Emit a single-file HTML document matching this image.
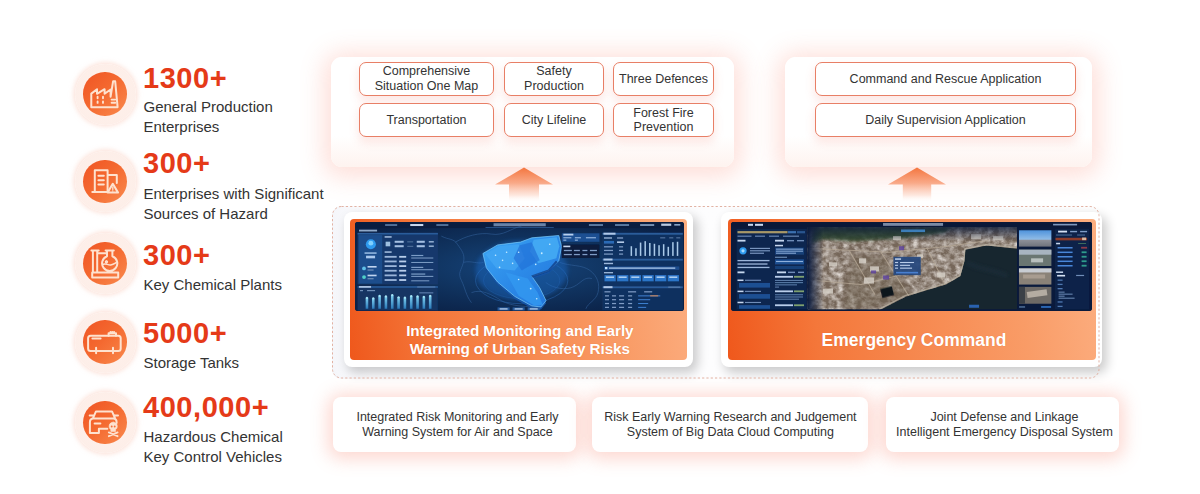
<!DOCTYPE html>
<html lang="en">
<head>
<meta charset="utf-8">
<title>Urban Safety Overview</title>
<style>
*{box-sizing:border-box;margin:0;padding:0}
html,body{width:1200px;height:494px;background:#fff;overflow:hidden}
body{position:relative;font-family:"Liberation Sans",sans-serif;color:#333}
.abs{position:absolute}
/* left stats */
.ring{position:absolute;left:74.5px;width:61px;height:61px;border-radius:50%;
  background:radial-gradient(circle,#fef1ec 0,#fdeee8 78%,#fce5dc 88%,#fbd9ce 96%,#fbd5c9 100%);
  box-shadow:0 0 5px 1.5px rgba(250,205,190,.6)}
.ring i{position:absolute;left:8.75px;top:8.75px;width:43.5px;height:43.5px;border-radius:50%;
  background:linear-gradient(135deg,#ef5424 0%,#f4682f 45%,#f98a4e 100%)}
.ring svg{position:absolute;left:8.5px;top:8.5px;width:44px;height:44px;fill:none;stroke:#fee2cf;stroke-width:2;stroke-linejoin:round;stroke-linecap:round}
.num{position:absolute;left:143px;font-weight:bold;font-size:29px;line-height:34px;color:#e53a18;white-space:nowrap;letter-spacing:.55px}
.lbl{position:absolute;left:143.5px;font-size:15px;line-height:19.6px;color:#333;white-space:nowrap}
/* panels */
.panel{position:absolute;background:linear-gradient(180deg,#fff 0,#fff 72%,#fef3ef 100%);border-radius:11px;box-shadow:0 3px 24px 7px rgba(249,120,95,.24)}
.pill{position:absolute;border:1px solid #e87f66;border-radius:7px;background:#fff;box-shadow:0 5px 10px 1px rgba(244,120,100,.16);padding-top:.5px;font-size:12.5px;line-height:14.5px;color:#333;display:flex;align-items:center;justify-content:center;text-align:center}
.arrow{position:absolute}
.dash{position:absolute;left:331.8px;top:206.1px;width:767.5px;height:172.5px;border-radius:9px;background:linear-gradient(90deg,#f5f6fa 0,#fcfcfe 5%,#fefefe 100%)}
.dash svg{position:absolute;left:0;top:0;width:100%;height:100%;overflow:visible}
.card{position:absolute;top:211.5px;height:155px;background:#fff;border-radius:8px;box-shadow:4px 5px 11px 1px rgba(0,0,0,.2)}
.card .or{position:absolute;left:6.5px;top:7.3px;right:6px;bottom:6.3px;border-radius:4px;background:linear-gradient(82deg,#ef581c 0%,#f4773a 24%,#f99c67 78%,#fcae80 100%)}
.card .shot{position:absolute;border-radius:3px;overflow:hidden;background:#0b1f45}
.card .cap{position:absolute;left:0;right:0;color:#fff;text-shadow:0 0 1px rgba(210,80,20,.45);font-weight:bold;text-align:center;white-space:nowrap}
.bbox{position:absolute;top:396.5px;height:55px;background:#fff;border-radius:8px;box-shadow:0 2px 17px 5px rgba(249,115,90,.28);padding-top:2.4px;font-size:12.5px;line-height:15.5px;color:#333;display:flex;align-items:center;justify-content:center;text-align:center}
</style>
</head>
<body>

<!-- LEFT STATS -->
<div class="ring" style="top:63.7px"><i></i>
<svg viewBox="0 0 44 44"><path d="M8.3 35.2V21.6L14 17.2v4.6l7.6-4.6v4.6l6-4.3v7.2l2.5-15.4h2.1l2.4 25.9z"/><path d="M14.6 24.8v1.5M14.6 29.4v1.5M20 24.8v1.5M20 29.4v1.5M28.6 27.6h3.6M28.6 30.8h3.6" stroke-width="1.9"/></svg></div>
<div class="num" style="top:60.5px">1300+</div>
<div class="lbl" style="top:97px">General Production<br>Enterprises</div>

<div class="ring" style="top:150.9px"><i></i>
<svg viewBox="0 0 44 44"><path d="M11.8 32.7V11.3h12.8v21.4M9.3 32.9h15.5M24.6 16h9.2v8M15.4 16.8h5.4M15.4 21.2h5.4M15.4 25.6h5.4"/><path d="M29.8 24.8l5.2 8.7H24.6z" stroke-width="2.1"/><path d="M29.8 28v2.6M29.8 31.9v.1" stroke-width="1.3"/></svg></div>
<div class="num" style="top:146.4px">300+</div>
<div class="lbl" style="top:184px">Enterprises with Significant<br>Sources of Hazard</div>

<div class="ring" style="top:233.1px"><i></i>
<svg viewBox="0 0 44 44"><path d="M9.2 30.4h26v5h-26zM9.9 8.6v21.8M14.2 8.6v21.8M8.4 8.6h7.3M14.2 11.3h9.8M24 8.6v5.7a7.6 7.6 0 1 0 5.4 0V8.6M22.6 8.6h8.2"/><path d="M19.6 22.6c2.5-2.2 5.2 .8 8.2 .3s4.3-1.8 6-2.6M23.4 18.9a.9 .9 0 1 0 .1 0" stroke-width="1.5"/></svg></div>
<div class="num" style="top:238.2px">300+</div>
<div class="lbl" style="top:275px">Key Chemical Plants</div>

<div class="ring" style="top:311.5px"><i></i>
<svg viewBox="0 0 44 44"><rect x="5.1" y="15.8" width="32.6" height="15.3" rx="2.5"/><path d="M25.6 15.8v-2.6h7.4v2.6M27.5 13.2v-1.1M29.3 13.2v-1.1M31.1 13.2v-1.1M13.1 27.8v5.5M30 27.8v5.5M9.4 18.6h8.2"/></svg></div>
<div class="num" style="top:316.3px">5000+</div>
<div class="lbl" style="top:352.8px">Storage Tanks</div>

<div class="ring" style="top:392.1px"><i></i>
<svg viewBox="0 0 44 44"><path d="M6.7 14.6h3.4M35 14.6h-3.4M10 17.2l3-6.8h16l3 6.8M6.9 32V21.2c0-2.2 1.5-3.6 3.5-3.6h19.8c2 0 3.4 1.4 3.4 3.6v.8M6.9 32h9v-4.2h8.4M11.6 22.4h5.8"/><path d="M30.2 21.2a4.1 4.1 0 0 1 4.1 4.1c0 1.5-.7 2.6-1.7 3.2v1.9h-4.8v-1.9c-1-.6-1.7-1.7-1.7-3.2a4.1 4.1 0 0 1 4.1-4.1z" fill="#fee2cf" stroke-width=".6"/><circle cx="28.7" cy="25.5" r=".95" fill="#f3703a" stroke="none"/><circle cx="31.7" cy="25.5" r=".95" fill="#f3703a" stroke="none"/><path d="M25.8 31.4l8.8 3.8M34.6 31.4l-8.8 3.8" stroke-width="1.8"/></svg></div>
<div class="num" style="top:390.3px">400,000+</div>
<div class="lbl" style="top:427px">Hazardous Chemical<br>Key Control Vehicles</div>

<!-- TOP PANELS -->
<div class="panel" style="left:331px;top:56.5px;width:403px;height:110.5px"></div>
<div class="pill" style="left:359px;top:61.5px;width:135px;height:34px">Comprehensive<br>Situation One Map</div>
<div class="pill" style="left:504px;top:61.5px;width:100px;height:34px">Safety<br>Production</div>
<div class="pill" style="left:613px;top:61.5px;width:101px;height:34px">Three Defences</div>
<div class="pill" style="left:359px;top:103px;width:135px;height:34px">Transportation</div>
<div class="pill" style="left:504px;top:103px;width:100px;height:34px">City Lifeline</div>
<div class="pill" style="left:613px;top:103px;width:101px;height:34px">Forest Fire<br>Prevention</div>

<div class="panel" style="left:785px;top:56.5px;width:307px;height:110.5px"></div>
<div class="pill" style="left:815px;top:61.5px;width:261px;height:34px">Command and Rescue Application</div>
<div class="pill" style="left:815px;top:103px;width:261px;height:34px">Daily Supervision Application</div>

<!-- ARROWS -->
<svg class="arrow" style="left:494px;top:166px" width="60" height="40" viewBox="0 0 60 40">
<defs><linearGradient id="ag" x1="0" y1="0" x2="0" y2="1"><stop offset="0" stop-color="#f4763f"/><stop offset=".45" stop-color="#f9a988"/><stop offset=".8" stop-color="#fdddd0" stop-opacity=".7"/><stop offset="1" stop-color="#fff" stop-opacity="0"/></linearGradient></defs>
<path d="M30 1.5L59 18.5H45V36H15V18.5H1z" fill="url(#ag)"/></svg>
<svg class="arrow" style="left:887px;top:166px" width="60" height="40" viewBox="0 0 60 40">
<path d="M30 1.5L59 18.5H44.2V36H15.8V18.5H1z" fill="url(#ag)"/></svg>

<!-- MIDDLE -->
<div class="dash"></div>

<div class="card" style="left:343.5px;width:349.3px">
  <div class="or"></div>
  <div class="shot" id="shot1" style="left:11.7px;top:10.5px;width:328.8px;height:89.3px">
<svg width="100%" height="100%" viewBox="0 0 327.5 88.5" preserveAspectRatio="none">
<defs>
<radialGradient id="s1bg" cx="50%" cy="50%" r="60%"><stop offset="0" stop-color="#16457c"/><stop offset=".5" stop-color="#10335f"/><stop offset="1" stop-color="#0b2146"/></radialGradient>
<linearGradient id="blob" x1="0" y1="0" x2="1" y2="1"><stop offset="0" stop-color="#3ba6f4"/><stop offset=".5" stop-color="#2c8ae8"/><stop offset="1" stop-color="#2172d8"/></linearGradient>
<linearGradient id="bar1" x1="0" y1="0" x2="0" y2="1"><stop offset="0" stop-color="#7fd0f0"/><stop offset="1" stop-color="#2a78b8"/></linearGradient>
<filter id="bl1" x="-5%" y="-5%" width="110%" height="110%"><feGaussianBlur stdDeviation=".45"/></filter>
<filter id="bl2" x="-20%" y="-20%" width="140%" height="140%"><feGaussianBlur stdDeviation="2.2"/></filter>
</defs>
<rect width="327.5" height="88.5" fill="url(#s1bg)"/>
<rect width="327.5" height="6" fill="#0a1d40"/>
<g filter="url(#bl1)">
<!-- top nav -->
<rect x="30" y="2.2" width="12" height="1.6" fill="#5f7fa8"/><rect x="55" y="2" width="13" height="2" fill="#c9d8ee"/><rect x="81" y="2.2" width="12" height="1.6" fill="#5f7fa8"/>
<rect x="138" y="1.2" width="52" height="3" fill="#a9c6ec" opacity=".6"/><rect x="130" y="5" width="68" height=".8" fill="#2d5a94"/>
<rect x="233" y="2.2" width="14" height="1.6" fill="#6c8bb3"/><rect x="259" y="2.2" width="14" height="1.6" fill="#6c8bb3"/><rect x="284" y="2.2" width="14" height="1.6" fill="#8aa5c8"/><rect x="305" y="1.6" width="10" height="2.2" fill="#b8c9e2"/><rect x="318" y="2" width="6" height="1.6" fill="#8aa5c8"/>
<rect x="4" y="7.6" width="18" height="1.8" fill="#8fa8c8"/>
<!-- left top panel -->
<rect x="2.6" y="10.8" width="80" height="51" fill="#14396c"/>
<rect x="2.6" y="10.8" width="80" height="1.6" fill="#2a5c9a"/>
<rect x="3.6" y="13" width="23.5" height="48" fill="#1e4e8c"/>
<circle cx="15.8" cy="22" r="5" fill="#2f9bef"/><circle cx="15.8" cy="21" r="2.4" fill="#7fd0ff"/>
<rect x="9.5" y="30" width="12" height="1.6" fill="#8fb4de"/><rect x="11" y="33.4" width="9" height="2.6" fill="#a9c8ee"/>
<circle cx="9" cy="46" r="1.9" fill="#5fc0e8"/><rect x="12.5" y="43.6" width="9" height="1.6" fill="#c0d4f0"/><rect x="12.5" y="47" width="6" height="1.2" fill="#6d8fba"/>
<circle cx="9" cy="54.6" r="1.9" fill="#4fd0c8"/><rect x="12.5" y="52.2" width="9" height="1.6" fill="#c0d4f0"/><rect x="12.5" y="55.6" width="6" height="1.2" fill="#6d8fba"/>
<rect x="29.5" y="14" width="7" height="1.6" fill="#9db6d8"/>
<rect x="30.5" y="19.5" width="4.6" height="4.6" fill="#9fc0e0"/>
<rect x="39.5" y="18.6" width="9" height="2" fill="#a5bfe2"/><rect x="39.5" y="23" width="9" height="2" fill="#a5bfe2"/><rect x="52" y="19.2" width="6" height="1" fill="#54749f"/><rect x="52" y="23.6" width="6" height="1" fill="#54749f"/>
<rect x="61.5" y="18.6" width="8" height="2" fill="#a5bfe2"/><rect x="61.5" y="23" width="8" height="2" fill="#a5bfe2"/><rect x="73.5" y="18.8" width="5" height="1.6" fill="#8fa9cd"/><rect x="73.5" y="23.2" width="5" height="1.6" fill="#8fa9cd"/>
<rect x="29.5" y="29" width="7" height="1.6" fill="#9db6d8"/>
<g fill="#9bb5da"><rect x="29.5" y="33.6" width="12" height="1.8"/><rect x="29.5" y="38.2" width="12" height="1.8"/><rect x="29.5" y="42.8" width="12" height="1.8"/><rect x="29.5" y="47.4" width="12" height="1.8"/><rect x="29.5" y="52" width="12" height="1.8"/><rect x="29.5" y="56.6" width="12" height="1.8"/></g>
<g fill="#b9cdea"><rect x="44" y="33.6" width="7" height="1.8"/><rect x="44" y="38.2" width="7" height="1.8"/><rect x="44" y="42.8" width="7" height="1.8"/><rect x="44" y="47.4" width="7" height="1.8"/><rect x="44" y="52" width="7" height="1.8"/><rect x="44" y="56.6" width="7" height="1.8"/></g>
<g fill="#7d9cc6"><rect x="56" y="32.6" width="12" height="1.2"/><rect x="56" y="35.2" width="22" height="1"/><rect x="56" y="39.6" width="22" height="1"/><rect x="56" y="44.4" width="12" height="1.2"/><rect x="56" y="46.8" width="22" height="1"/><rect x="56" y="51" width="14" height="1.2"/><rect x="56" y="53.4" width="22" height="1"/><rect x="56" y="57.8" width="18" height="1"/></g>
<!-- left bottom panel -->
<rect x="2.6" y="63.6" width="80" height="24" fill="#123464"/>
<rect x="2.6" y="63.6" width="80" height="1.6" fill="#2a5c9a"/><rect x="4" y="63.4" width="12" height="1.8" fill="#a8c0e0"/><rect x="62" y="63.8" width="18" height="1.2" fill="#5a7dab"/>
<rect x="5" y="67.4" width="3" height="1.2" fill="#6f8fb8"/><rect x="12" y="67.4" width="8" height="1.2" fill="#6f8fb8"/><rect x="64" y="69.6" width="14" height="1.2" fill="#587aa8"/>
<g fill="url(#bar1)"><rect x="10.6" y="75" width="2.6" height="11"/><rect x="16.9" y="75.6" width="2.6" height="10.4"/><rect x="23.2" y="73" width="2.6" height="13"/><rect x="29.5" y="73.6" width="2.6" height="12.4"/><rect x="35.8" y="72.2" width="2.6" height="13.8"/><rect x="42.1" y="74.4" width="2.6" height="11.6"/><rect x="48.4" y="74.8" width="2.6" height="11.2"/><rect x="54.7" y="73.2" width="2.6" height="12.8"/><rect x="61" y="73.6" width="2.6" height="12.4"/><rect x="67.3" y="74" width="2.6" height="12"/><rect x="73.6" y="73" width="2.6" height="13"/></g>
<g fill="#a8e4f4"><circle cx="11.9" cy="75.2" r="1.1"/><circle cx="18.2" cy="75.8" r="1.1"/><circle cx="24.5" cy="73.2" r="1.1"/><circle cx="30.8" cy="73.8" r="1.1"/><circle cx="37.1" cy="72.4" r="1.1"/><circle cx="43.4" cy="74.6" r="1.1"/><circle cx="49.7" cy="75" r="1.1"/><circle cx="56" cy="73.4" r="1.1"/><circle cx="62.3" cy="73.8" r="1.1"/><circle cx="68.6" cy="74.2" r="1.1"/><circle cx="74.9" cy="73.2" r="1.1"/></g>
</g>
<!-- map background lines -->
<g fill="none" stroke="#3a6aa6" stroke-width=".6" opacity=".8">
<path d="M86 14c8 4 12 2 16 8s8 10 6 18-6 10-2 18 4 14 10 22"/><path d="M108 40c8-2 14 2 20 0M116 70c10-4 20 2 30 8s26 6 40 6"/><path d="M204 40c10 4 22 2 30 8s10 14 8 22-10 10-12 16"/><path d="M100 20c10-6 24-10 36-8s20-6 30-8"/><path d="M190 60c8 6 20 8 28 4s10-10 18-8"/>
</g>
<g fill="none" stroke="#2d6bb5" stroke-width=".7" opacity=".7"><ellipse cx="166" cy="58" rx="46" ry="23"/><ellipse cx="166" cy="58" rx="38" ry="18" opacity=".6"/></g>
<!-- blob -->
<ellipse cx="166" cy="48" rx="46" ry="30" fill="#1f6fd0" opacity=".4" filter="url(#bl2)"/>
<path d="M127.4 33.7L142.1 25.2l22.7-2.8 11.3-4.2 26.9-2.3 2.8 10.8-2.8 14.1-9.9 9.9-17 5.7 7.9 11.3 6.3 12.8-5.1 6.2-9.1-1.1-17-9.4-17-14.1-11.3-14.2z" fill="#1553a4"/>
<path d="M127.4 31.2L142.1 22.7l22.7-2.8 11.3-4.2 26.9-2.3 2.8 10.8-2.8 14.1-9.9 9.9-17 5.7 7.9 11.3 6.3 12.8-5.1 6.2-9.1-1.1-17-9.4-17-14.1-11.3-14.2z" fill="url(#blob)" stroke="#7accfa" stroke-width=".7" stroke-linejoin="round"/>
<g filter="url(#bl1)">
<path d="M178 17.5l23-2.5 2.5 9-3 12-18 5-8-12z" fill="#46adf5" opacity=".85"/>
<path d="M130 32l13-8 20-2 6 14-10 12-18-2z" fill="#42a6f4" opacity=".8"/>
<path d="M150 50l22 6 10 14 5 12-8 1-16-10z" fill="#3398f0" opacity=".85"/>
<path d="M164 23l12-3 8 18-18 10-8-12z" fill="#2474da" opacity=".75"/>
<path d="M176 54l17-6 8-9" fill="none" stroke="#0f3f88" stroke-width="2.2" opacity=".8"/>
<g fill="#c8ecff"><circle cx="140" cy="33" r=".8"/><circle cx="147" cy="38" r=".8"/><circle cx="151" cy="30" r=".8"/><circle cx="157" cy="41" r=".8"/><circle cx="163" cy="30" r=".8"/><circle cx="186" cy="31" r=".9"/><circle cx="180" cy="42" r=".8"/><circle cx="163" cy="57" r=".8"/><circle cx="175" cy="66" r=".9"/><circle cx="181" cy="76" r=".8"/><circle cx="144" cy="45" r=".8"/><circle cx="194" cy="22" r=".8"/></g>
<!-- bottom buttons -->
<rect x="142" y="84.6" width="12" height="3" fill="#275a9c"/><rect x="157" y="84.6" width="12" height="3" fill="#275a9c"/><rect x="172" y="84.6" width="12" height="3" fill="#275a9c"/>
<rect x="144" y="85.5" width="8" height="1.3" fill="#b5cbe8"/><rect x="159" y="85.5" width="8" height="1.3" fill="#b5cbe8"/><rect x="174" y="85.5" width="8" height="1.3" fill="#b5cbe8"/>
<!-- centre-right info -->
<rect x="206" y="11.2" width="37.5" height="8.4" fill="#1c4f92"/><rect x="207.5" y="11.6" width="10" height="1.8" fill="#b8d0ee"/>
<rect x="207.5" y="15" width="8" height="1.2" fill="#8eb0da"/><rect x="219" y="15" width="6" height="1.2" fill="#8eb0da"/><rect x="230" y="15" width="10" height="1.2" fill="#8eb0da"/><rect x="207.5" y="17.4" width="3" height="1.2" fill="#8eb0da"/><rect x="219" y="17.4" width="3" height="1.2" fill="#8eb0da"/>
<rect x="206" y="22.3" width="37.5" height="13.4" fill="#0a1a3c"/><rect x="207.5" y="23.4" width="7" height="1.6" fill="#c5d6ee"/>
<g fill="#7f9cc6"><rect x="208" y="27.6" width="8" height="1.3"/><rect x="218" y="27.6" width="6" height="1.3"/><rect x="226.5" y="27.6" width="5" height="1.3"/><rect x="234" y="27.6" width="7" height="1.3"/><rect x="208" y="31.6" width="8" height="1.3"/><rect x="218" y="31.6" width="6" height="1.3"/><rect x="226.5" y="31.6" width="5" height="1.3"/><rect x="234" y="31.6" width="7" height="1.3"/></g>
<!-- right column -->
<rect x="246.5" y="10.4" width="80" height="77" fill="#123463" opacity=".85"/>
<rect x="246.5" y="10.8" width="80" height="1.8" fill="#2a5c9a"/><rect x="247.5" y="10.6" width="12" height="2" fill="#b0c8e8"/>
<rect x="248" y="15.2" width="8" height="1.3" fill="#9db8dc"/><rect x="261" y="15.2" width="6" height="1.3" fill="#7f9cc6"/><rect x="304" y="15.2" width="5" height="1" fill="#5b7ba8"/><rect x="313" y="15.2" width="4" height="1" fill="#5b7ba8"/><rect x="320" y="15.2" width="4" height="1" fill="#5b7ba8"/>
<rect x="248" y="18.8" width="10" height="2.6" fill="#2c6ab6"/><rect x="261" y="19.2" width="7" height="1.6" fill="#b5cbe8"/>
<g fill="#7f9cc6"><rect x="248" y="24" width="9" height="1.2"/><rect x="248" y="27.6" width="9" height="1.2"/><rect x="248" y="31.2" width="9" height="1.2"/><rect x="263" y="24" width="4" height="1.2"/><rect x="263" y="27.6" width="4" height="1.2"/><rect x="263" y="31.2" width="4" height="1.2"/></g>
<g fill="#a9c9e8"><rect x="274.5" y="24" width="1.5" height="9.6"/><rect x="279.1" y="26" width="1.5" height="7.6"/><rect x="283.7" y="20.4" width="1.5" height="13.2"/><rect x="288.3" y="19" width="1.5" height="14.6"/><rect x="292.9" y="20.8" width="1.5" height="12.8"/><rect x="297.5" y="21.6" width="1.5" height="12"/><rect x="302.1" y="23" width="1.5" height="10.6"/><rect x="306.7" y="22" width="1.5" height="11.6"/><rect x="311.3" y="24.6" width="1.5" height="9"/><rect x="315.9" y="20" width="1.5" height="13.6"/><rect x="320.5" y="19.6" width="1.5" height="14"/></g>
<rect x="246.5" y="36.4" width="80" height="1.8" fill="#2a5c9a"/><rect x="247.5" y="36.2" width="9" height="2" fill="#b0c8e8"/>
<rect x="248" y="40.4" width="9" height="1.4" fill="#9db8dc"/>
<rect x="248" y="44" width="75" height="3.4" fill="#1d4d8e"/><rect x="249" y="44.6" width="2.4" height="2.2" fill="#bfe0ff"/><rect x="253" y="45" width="66" height="1.4" fill="#9fbde2"/>
<rect x="248" y="49.6" width="9" height="1.3" fill="#9db8dc"/>
<g fill="#2c74c8"><rect x="248.5" y="52.6" width="11.2" height="6.2"/><rect x="261.1" y="52.6" width="11.2" height="6.2"/><rect x="273.7" y="52.6" width="11.2" height="6.2"/><rect x="286.3" y="52.6" width="11.2" height="6.2"/><rect x="298.9" y="52.6" width="11.2" height="6.2"/><rect x="311.5" y="52.6" width="11.2" height="6.2"/></g>
<g fill="#b8d6f4"><rect x="250" y="54" width="8" height="1.4"/><rect x="262.6" y="54" width="8" height="1.4"/><rect x="275.2" y="54" width="8" height="1.4"/><rect x="287.8" y="54" width="8" height="1.4"/><rect x="300.4" y="54" width="8" height="1.4"/><rect x="313" y="54" width="8" height="1.4"/></g>
<rect x="246.5" y="63.8" width="80" height="1.8" fill="#2a5c9a"/><rect x="247.5" y="63.6" width="9" height="2" fill="#b0c8e8"/><rect x="312" y="64" width="12" height="1.2" fill="#5a7dab"/>
<g fill="#7f9cc6"><rect x="248.5" y="68.6" width="6" height="1.2"/><rect x="272" y="68.6" width="8" height="1.2"/><rect x="288" y="68.6" width="8" height="1.2"/>
<rect x="249" y="72.6" width="4" height="1.2"/><rect x="256" y="72.6" width="4" height="1.2"/><rect x="263" y="72.6" width="5" height="1.2"/><rect x="272" y="72.6" width="4" height="1.2"/>
<rect x="249" y="76.4" width="4" height="1.2"/><rect x="256" y="76.4" width="4" height="1.2"/><rect x="263" y="76.4" width="5" height="1.2"/><rect x="272" y="76.4" width="4" height="1.2"/>
<rect x="249" y="80.2" width="4" height="1.2"/><rect x="256" y="80.2" width="4" height="1.2"/><rect x="263" y="80.2" width="5" height="1.2"/><rect x="272" y="80.2" width="4" height="1.2"/>
<rect x="249" y="84" width="4" height="1.2"/><rect x="256" y="84" width="4" height="1.2"/><rect x="263" y="84" width="5" height="1.2"/><rect x="272" y="84" width="4" height="1.2"/></g>
<g fill="#3d7fd0"><rect x="282" y="72.7" width="22" height="1"/><rect x="282" y="76.5" width="12" height="1"/><rect x="282" y="80.3" width="10" height="1"/><rect x="282" y="84.1" width="8" height="1"/></g>
<rect x="294" y="72.7" width="8" height="1" fill="#e08850"/>
</g>
</svg>
</div>
  <div class="cap" style="top:110.2px;padding-left:3.4px;font-size:15.3px;letter-spacing:-.1px;line-height:18px">Integrated Monitoring and Early<br>Warning of Urban Safety Risks</div>
</div>

<div class="card" style="left:721px;width:381px">
  <div class="or"></div>
  <div class="shot" id="shot2" style="left:9.6px;top:10.5px;width:361.6px;height:89.3px">
<svg width="100%" height="100%" viewBox="0 0 361.5 88.5" preserveAspectRatio="none">
<defs>
<filter id="sat" x="0" y="0" width="100%" height="100%"><feTurbulence type="fractalNoise" baseFrequency=".16 .2" numOctaves="3" seed="7" result="n"/><feColorMatrix type="matrix" values="0 0 0 0 0.74  0 0 0 0 0.69  0 0 0 0 0.65  1.3 1.1 0 0 -0.9"/><feGaussianBlur stdDeviation=".5"/></filter>
<filter id="sat2" x="0" y="0" width="100%" height="100%"><feTurbulence type="fractalNoise" baseFrequency=".3 .35" numOctaves="2" seed="3"/><feColorMatrix type="matrix" values="0 0 0 0 0.86  0 0 0 0 0.83  0 0 0 0 0.8  1.6 0 0 0 -0.95"/><feGaussianBlur stdDeviation=".4"/></filter>
<filter id="b2" x="-5%" y="-5%" width="110%" height="110%"><feGaussianBlur stdDeviation=".45"/></filter>
<filter id="b3" x="-10%" y="-10%" width="120%" height="120%"><feGaussianBlur stdDeviation="1.6"/></filter>
<clipPath id="mapc"><rect x="76.5" y="5" width="209.5" height="81.5"/></clipPath>
<clipPath id="landc"><path d="M76.5 5H286v21.4l-30.5-3-21.3 4-1 12.2-4 14.2-14.2 8.1-20.2 6.1-20.3 6-26.2 13.5H76.5z"/></clipPath>
<linearGradient id="tfade" x1="0" y1="0" x2="0" y2="1"><stop offset="0" stop-color="#0a1a3a" stop-opacity=".75"/><stop offset="1" stop-color="#0a1a3a" stop-opacity="0"/></linearGradient>
<linearGradient id="lfade" x1="0" y1="0" x2="1" y2="0"><stop offset="0" stop-color="#0b1c40"/><stop offset="1" stop-color="#0b1c40" stop-opacity="0"/></linearGradient>
<linearGradient id="sky" x1="0" y1="0" x2="0" y2="1"><stop offset="0" stop-color="#4f93dc"/><stop offset=".55" stop-color="#8fbbe6"/><stop offset=".6" stop-color="#8d8f98"/><stop offset="1" stop-color="#6f737c"/></linearGradient>
</defs>
<rect width="361.5" height="88.5" fill="#0a1a3c"/>
<!-- map -->
<g clip-path="url(#mapc)">
<rect x="76.5" y="5" width="210" height="82" fill="#17262f"/>
<g clip-path="url(#landc)">
<rect x="76.5" y="5" width="210" height="82" fill="#76675a"/>
<rect x="76.5" y="5" width="210" height="82" filter="url(#sat)"/>
<rect x="76.5" y="5" width="210" height="82" filter="url(#sat2)" opacity=".55"/>
<path d="M82 5h140l-10 6-40 5-50 3-30-2-12 4z" fill="#2e4a2c" opacity=".85" filter="url(#b3)"/>
<path d="M120 30l34 3 30 40-44 14-30-1z" fill="#6e5e50" opacity=".45" filter="url(#b3)"/>
<g stroke="#b8aa98" stroke-width="1" opacity=".75" fill="none" filter="url(#b2)"><path d="M78 26l80 4 60-6 40-6"/><path d="M118 28l26 44M150 30l32 50M196 26l18 36"/><path d="M84 58l46 4 50-12"/></g>
<g fill="#d8d2ca" opacity=".8" filter="url(#b2)"><rect x="128" y="36" width="7" height="5"/><rect x="139" y="44" width="9" height="5"/><rect x="133" y="55" width="10" height="6"/><rect x="2" y="38" width="9" height="5"/><rect x="206" y="50" width="8" height="5"/><rect x="186" y="32" width="6" height="4"/><rect x="162" y="14" width="8" height="4"/><rect x="240" y="12" width="10" height="5"/><rect x="262" y="14" width="10" height="4"/><rect x="98" y="40" width="8" height="4"/><rect x="92" y="66" width="10" height="5"/></g>
<rect x="150" y="65" width="12" height="9" fill="#0c141c" transform="rotate(-14 156 69)" filter="url(#b2)"/>
<g fill="#5b3fa0" opacity=".8" filter="url(#b2)"><rect x="168" y="24" width="5" height="4"/><rect x="152" y="53" width="6" height="4"/><rect x="140" y="48" width="5" height="3"/></g>
</g>
<path d="M148 86.5l26.2-13.5 20.3-6 20.2-6.1 14.2-8.1 4-14.2 1-12.2 21.3-4 30.5 3" fill="none" stroke="#bdb6a6" stroke-width="1.2" opacity=".7" filter="url(#b2)"/>
<path d="M236 40c12 8 28 6 40 14" stroke="#1c2d3a" stroke-width="5" fill="none" opacity=".6" filter="url(#b3)"/>
<rect x="76.5" y="5" width="16" height="82" fill="url(#lfade)"/><rect x="76.5" y="5" width="210" height="14" fill="url(#tfade)"/>
<!-- popup -->
<rect x="162.4" y="34.5" width="27.3" height="18.2" fill="#24467e" opacity=".92"/>
<g fill="#b9cdea" filter="url(#b2)"><rect x="164" y="36" width="6" height="1.5"/><rect x="164" y="39.6" width="3" height="1.1"/><rect x="169" y="39.6" width="14" height="1.1"/><rect x="164" y="42.4" width="3" height="1.1"/><rect x="169" y="42.4" width="10" height="1.1"/><rect x="164" y="45.2" width="3" height="1.1"/><rect x="169" y="45.2" width="12" height="1.1"/><rect x="165" y="49.4" width="22" height="1.6" fill="#4a7fd0"/></g>
<rect x="170" y="7.4" width="24" height="2.6" fill="#3f86c8" opacity=".9"/>
<rect x="238" y="82" width="10" height="3" fill="#2a62b0"/>
</g>
<!-- header -->
<rect width="361.5" height="5" fill="#0a1838"/>
<g filter="url(#b2)">
<rect x="152" y="1" width="60" height="2.8" fill="#c5d6ee" opacity=".6"/>
<rect x="17" y="1.8" width="5" height="2" fill="#c8d6ee"/><rect x="24" y="1.8" width="8" height="2" fill="#c8d6ee"/>
<rect x="322" y="1.8" width="24" height="1.6" fill="#7f98bd"/>
<!-- left panel -->
<rect x="5.6" y="7" width="70" height="79.5" fill="#0e2750"/>
<rect x="6.5" y="9" width="50" height="2.2" fill="#a89868"/><rect x="57" y="9" width="8" height="2.2" fill="#3a6fb0"/><rect x="66" y="9" width="8" height="2.2" fill="#2a558f"/>
<rect x="6.5" y="13.5" width="14" height="1.1" fill="#6f8db8"/><rect x="24" y="13.5" width="10" height="1.1" fill="#6f8db8"/><rect x="38" y="13.5" width="10" height="1.1" fill="#6f8db8"/><rect x="52" y="13.5" width="16" height="1.1" fill="#6f8db8"/>
<rect x="6.5" y="17.6" width="8" height="1.8" fill="#c5d6ee"/><rect x="44" y="17.6" width="9" height="1.8" fill="#c5d6ee"/><rect x="56" y="17.8" width="7" height="1.4" fill="#6f8db8"/><rect x="66" y="17.8" width="7" height="1.4" fill="#6f8db8"/>
<circle cx="12" cy="28.6" r="3.6" fill="#2f9bef"/><circle cx="12" cy="28.6" r="1.6" fill="#a8dcff"/>
<g fill="#7f9cc6"><rect x="19" y="25.6" width="20" height="1.1"/><rect x="19" y="28" width="20" height="1.1"/><rect x="19" y="30.4" width="14" height="1.1"/></g>
<g fill="#9bb5da"><rect x="6.5" y="37.6" width="32" height="1.3"/><rect x="6.5" y="41" width="30" height="1.3"/><rect x="6.5" y="44.4" width="32" height="1.3"/></g>
<rect x="6.5" y="49" width="7" height="1.8" fill="#c5d6ee"/>
<rect x="6.5" y="57" width="6" height="1.5" fill="#c5d6ee"/><rect x="14" y="57.2" width="16" height="1.1" fill="#6f8db8"/>
<rect x="8" y="60.4" width="31" height="4.6" fill="#1d4f92"/>
<rect x="6.5" y="68" width="6" height="1.5" fill="#c5d6ee"/><rect x="14" y="68.2" width="16" height="1.1" fill="#6f8db8"/>
<rect x="8" y="71.4" width="31" height="4.6" fill="#1d4f92"/>
<rect x="6.5" y="79" width="6" height="1.5" fill="#c5d6ee"/><rect x="14" y="79.2" width="16" height="1.1" fill="#6f8db8"/>
<rect x="8" y="82.4" width="31" height="3.6" fill="#1d4f92"/>
<rect x="44" y="22.6" width="8" height="1.5" fill="#c5d6ee"/>
<rect x="44" y="25.4" width="29" height="7" fill="#173f78"/><g fill="#8fb0dc"><rect x="45" y="26.4" width="27" height="1"/><rect x="45" y="28.4" width="27" height="1"/><rect x="45" y="30.4" width="20" height="1"/></g>
<rect x="44" y="34.4" width="12" height="1.1" fill="#6f8db8"/>
<rect x="44" y="37" width="29" height="5" fill="#1d4f92"/><rect x="45" y="38.6" width="27" height="1.1" fill="#8fb0dc"/>
<rect x="44" y="43.6" width="29" height="3" fill="#173f78"/>
<rect x="46" y="49" width="9" height="1.8" fill="#c5d6ee"/><rect x="57" y="49.2" width="7" height="1.4" fill="#6f8db8"/><rect x="67" y="49.2" width="6" height="1.4" fill="#6f8db8"/>
<rect x="44" y="53.4" width="18" height="1.8" fill="#b9cdea"/><rect x="63" y="53.4" width="10" height="1.8" fill="#7fa070"/>
<g fill="#5f80ad"><rect x="44" y="57.4" width="28" height="1"/><rect x="44" y="59.6" width="28" height="1"/><rect x="44" y="61.8" width="22" height="1"/><rect x="44" y="64" width="4" height="1"/></g>
<rect x="44" y="67.8" width="18" height="1.8" fill="#b9cdea"/><rect x="63" y="67.8" width="10" height="1.8" fill="#7fa070"/>
<g fill="#5f80ad"><rect x="44" y="71.6" width="28" height="1"/><rect x="44" y="73.8" width="28" height="1"/><rect x="44" y="76" width="24" height="1"/></g>
<rect x="44" y="81.6" width="18" height="1.8" fill="#b9cdea"/><rect x="63" y="81.6" width="10" height="1.8" fill="#7fa070"/>
<!-- thumbnails -->
<rect x="287.9" y="8.2" width="32.4" height="16.2" fill="url(#sky)"/>
<rect x="287.9" y="27.4" width="32.4" height="16.2" fill="#6b7672"/><rect x="287.9" y="27.4" width="32.4" height="5" fill="#a8b4c0"/><rect x="300" y="36" width="12" height="4" fill="#b8c0be"/>
<rect x="287.9" y="46" width="32.4" height="16" fill="#8a8278"/><rect x="287.9" y="46" width="32.4" height="4" fill="#c8ccd2"/><rect x="292" y="52" width="22" height="4" fill="#a89c90"/>
<rect x="287.9" y="64.3" width="32.4" height="16.7" fill="#6e6a66"/><rect x="296" y="68" width="20" height="6" fill="#b4aca2" transform="rotate(-8 306 71)"/><rect x="287.9" y="64.3" width="6" height="16.7" fill="#3a3f46"/>
<rect x="288" y="83.6" width="6" height="1.2" fill="#5f80ad"/><rect x="310" y="83.4" width="10" height="1.6" fill="#2f74c8"/>
<!-- right list -->
<rect x="324" y="7" width="34" height="79.5" fill="#0c2148"/>
<rect x="327" y="8.6" width="9" height="1.8" fill="#d5e2f5"/><rect x="339" y="8.8" width="7" height="1.4" fill="#7f9cc6"/><rect x="349" y="8.8" width="7" height="1.4" fill="#7f9cc6"/>
<rect x="325" y="12.4" width="16" height="1" fill="#4f6f9c"/><rect x="346" y="12.4" width="8" height="1" fill="#4f6f9c"/>
<rect x="324.4" y="15.6" width="31.6" height="2.6" fill="#8c3a2c"/><rect x="351" y="15.4" width="4" height="2.6" fill="#d8b8a0"/>
<rect x="325" y="20.6" width="4" height="1.5" fill="#c5d6ee"/><rect x="347" y="20.8" width="8" height="1" fill="#3e6a5c"/>
<g fill="#4a86d8"><rect x="326.5" y="24.8" width="15" height="1.5"/><rect x="326.5" y="29.3" width="15" height="1.5"/><rect x="326.5" y="33.7" width="15" height="1.5"/><rect x="326.5" y="38.2" width="15" height="1.5"/><rect x="326.5" y="42.6" width="15" height="1.5"/></g>
<rect x="350" y="24.6" width="6" height="1.8" fill="#8c3a4c"/>
<g fill="#2f9c8c"><rect x="350.5" y="29.1" width="5" height="1.8"/><rect x="350.5" y="33.5" width="5" height="1.8"/><rect x="350.5" y="38" width="5" height="1.8"/><rect x="350.5" y="42.4" width="5" height="1.8"/></g>
<rect x="325" y="49" width="7" height="1.5" fill="#c5d6ee"/>
<rect x="326" y="52.4" width="8" height="1.6" fill="#d5e2f5"/><rect x="345" y="52.4" width="8" height="1.2" fill="#6f8db8"/>
<g fill="#4f78b0"><rect x="326.5" y="57" width="5" height="1.3"/><rect x="326.5" y="61.2" width="5" height="1.3"/><rect x="326.5" y="65.4" width="5" height="1.3"/><rect x="326.5" y="78.6" width="5" height="1.3"/><rect x="326.5" y="83" width="5" height="1.3"/></g>
<g fill="#6f8db8"><rect x="327.5" y="69" width="6" height="1"/><rect x="327.5" y="71" width="14" height="1"/><rect x="327.5" y="73" width="6" height="1"/><rect x="327.5" y="75" width="16" height="1"/></g>
</g>
</svg>
</div>
  <div class="cap" style="top:117.6px;padding-left:5px;font-size:17.5px;line-height:22px">Emergency Command</div>
</div>

<div class="dash" style="background:none;pointer-events:none"><svg viewBox="0 0 767.5 172.5" preserveAspectRatio="none"><rect x=".5" y=".5" width="766.5" height="171.5" rx="9" fill="none" stroke="#e2b2a3" stroke-width="1" stroke-dasharray="2.2 2.1"/></svg></div>

<!-- BOTTOM -->
<div class="bbox" style="left:332.5px;width:243px;padding-left:7px">Integrated Risk Monitoring and Early<br>Warning System for Air and Space</div>
<div class="bbox" style="left:591.5px;width:276.5px;padding-left:1.2px">Risk Early Warning Research and Judgement<br>System of Big Data Cloud Computing</div>
<div class="bbox" style="left:885.5px;width:233.5px;padding-left:4.4px">Joint Defense and Linkage<br>Intelligent Emergency Disposal System</div>

</body>
</html>
